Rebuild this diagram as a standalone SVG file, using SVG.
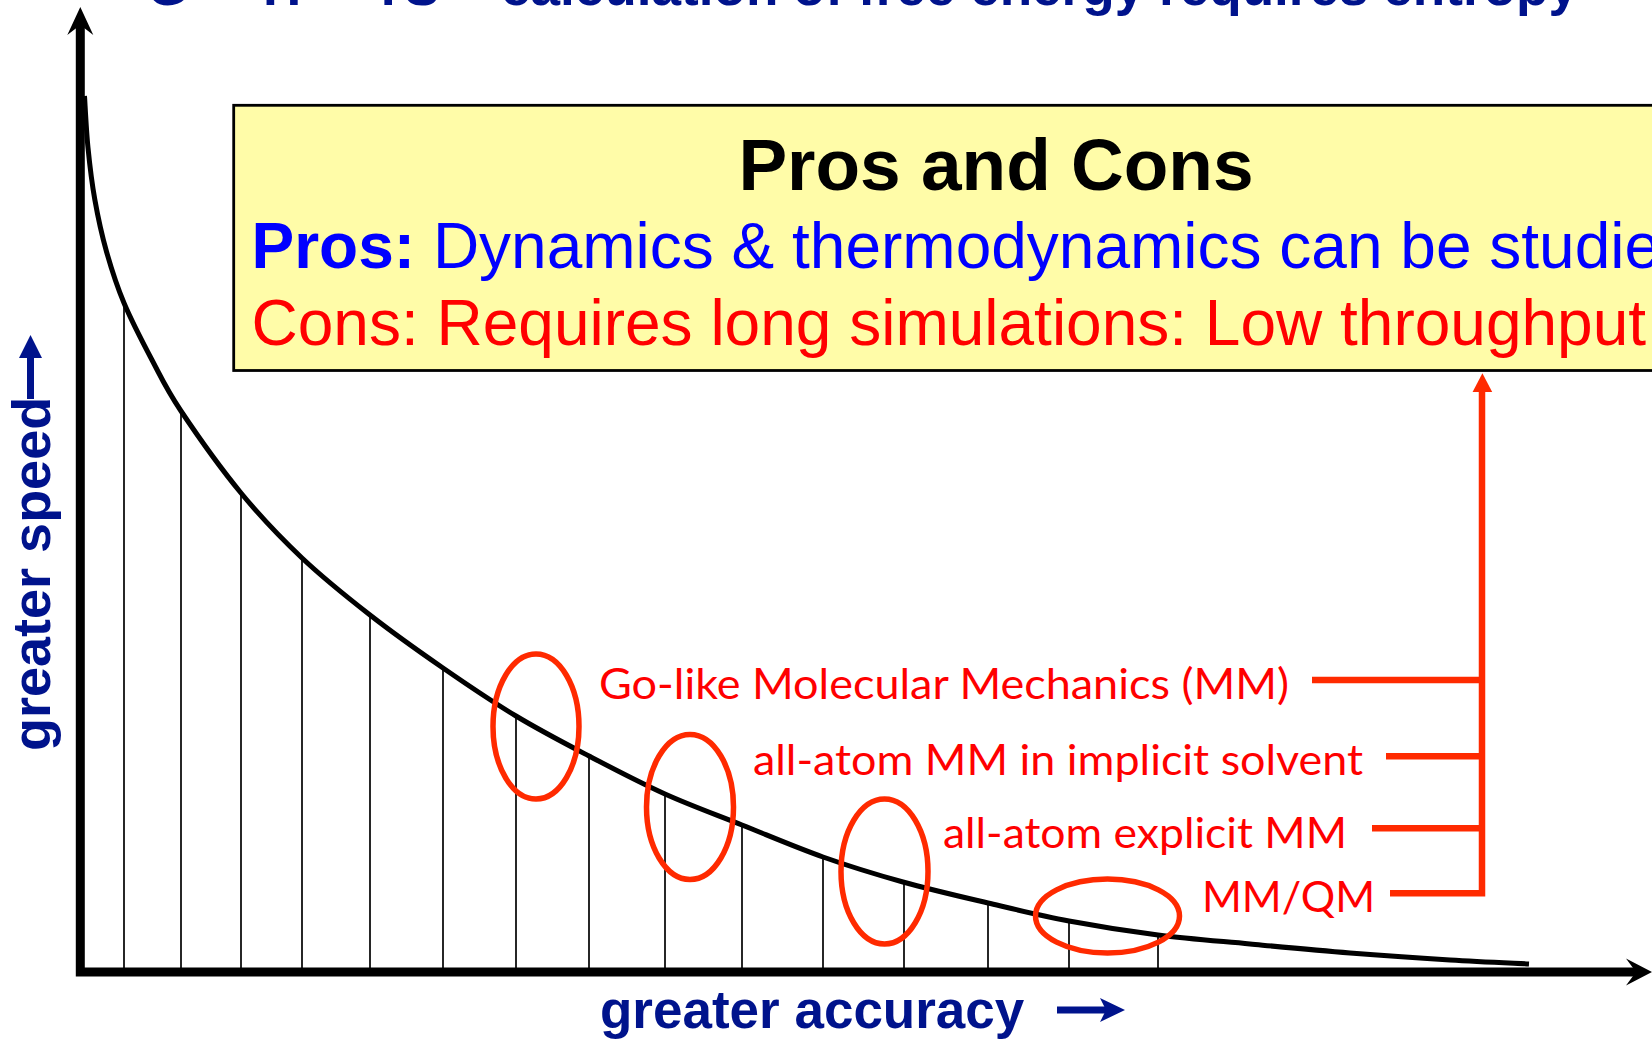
<svg xmlns="http://www.w3.org/2000/svg" width="1652" height="1041" viewBox="0 0 1652 1041">
<style>
.navy{fill:#00138C;font-family:"Liberation Sans",Arial,sans-serif;font-weight:bold}
.lbl{fill:#FF0000;font-family:Lato,"Open Sans",sans-serif;font-size:43px}
.ell{fill:none;stroke:#FF2A00;stroke-width:5.5}
.red{fill:none;stroke:#FF2A00;stroke-width:6.5}
.tick{stroke:#000;stroke-width:1.7}
.box{font-family:"Liberation Sans",Arial,sans-serif}
</style>
<rect width="1652" height="1041" fill="#fff"/>
<text id="title" class="navy" x="147" y="4.5" font-size="53" fill="#000C80"><tspan x="147">G</tspan><tspan x="205">=</tspan><tspan x="263">H</tspan><tspan x="320">–</tspan><tspan x="372">TS</tspan><tspan x="446">–</tspan><tspan x="501" textLength="1077" lengthAdjust="spacingAndGlyphs">calculation of free energy requires entropy</tspan></text>

<g id="box">
<rect x="233.7" y="105.3" width="1500" height="265.2" fill="#FFFCA8" stroke="#000" stroke-width="2.8"/>
<text class="box" x="996" y="189.5" font-size="73" font-weight="bold" text-anchor="middle" fill="#000">Pros and Cons</text>
<text class="box" x="251.5" y="267.5" font-size="64" fill="#0000FF"><tspan font-weight="bold">Pros:</tspan> Dynamics &amp; thermodynamics can be studie</text>
<text class="box" x="251.5" y="345" font-size="64" fill="#FF0000">Cons: Requires long simulations: Low throughput</text>
</g>

<g id="chart">
<g id="ticks">
<line class="tick" x1="124" y1="303" x2="124" y2="968"/>
<line class="tick" x1="181" y1="411" x2="181" y2="968"/>
<line class="tick" x1="241" y1="493" x2="241" y2="968"/>
<line class="tick" x1="302" y1="558" x2="302" y2="968"/>
<line class="tick" x1="370" y1="615" x2="370" y2="968"/>
<line class="tick" x1="443" y1="668" x2="443" y2="968"/>
<line class="tick" x1="516" y1="716" x2="516" y2="968"/>
<line class="tick" x1="589" y1="756" x2="589" y2="968"/>
<line class="tick" x1="665" y1="794" x2="665" y2="968"/>
<line class="tick" x1="742" y1="825" x2="742" y2="968"/>
<line class="tick" x1="823" y1="857" x2="823" y2="968"/>
<line class="tick" x1="904" y1="882" x2="904" y2="968"/>
<line class="tick" x1="988" y1="903" x2="988" y2="968"/>
<line class="tick" x1="1069" y1="921" x2="1069" y2="968"/>
<line class="tick" x1="1158" y1="935" x2="1158" y2="968"/>
</g>
<path id="curve" fill="none" stroke="#000" stroke-width="5" d="M84.5 96 C85.08 104.63 86.28 130.5 88 147.75 C89.72 165 91.73 182.25 94.8 199.5 C97.87 216.75 101.53 234 106.4 251.25 C111.27 268.5 116.4 284.88 124 303 C131.6 321.13 142.5 342 152 360 C161.5 378 166.17 388.83 181 411 C195.83 433.17 220.83 468.5 241 493 C261.17 517.5 280.5 537.67 302 558 C323.5 578.33 346.5 596.67 370 615 C393.5 633.33 418.67 651.17 443 668 C467.33 684.83 491.67 701.33 516 716 C540.33 730.67 564.17 743 589 756 C613.83 769 639.5 782.5 665 794 C690.5 805.5 715.67 814.5 742 825 C768.33 835.5 796.17 847.5 823 857 C849.83 866.5 875.5 874.33 903 882 C930.5 889.67 960.33 896.5 988 903 C1015.67 909.5 1040.67 915.67 1069 921 C1097.33 926.33 1127.83 931.17 1158 935 C1188.17 938.83 1218 941 1250 944 C1282 947 1316.67 950.33 1350 953 C1383.33 955.67 1420.17 958.17 1450 960 C1479.83 961.83 1515.83 963.33 1529 964"/>
<g id="axes">
<path d="M80.3 24 V972 H1637" fill="none" stroke="#000" stroke-width="9" stroke-linejoin="miter"/>
<polygon points="80.3,7 93.3,35 80.3,25 67.3,35" fill="#000"/>
<polygon points="1652,972 1626,985.5 1636,972 1626,958.5" fill="#000"/>
</g>
</g>

<g id="axis-speed">
<text class="navy" font-size="54" transform="translate(50,751) rotate(-90)">greater speed</text>
<line x1="30.5" y1="399" x2="30.5" y2="352" stroke="#00138C" stroke-width="7"/>
<polygon points="30.5,335 42,358 19,358" fill="#00138C"/>
</g>
<g id="axis-accuracy">
<text class="navy" x="600" y="1028" font-size="53">greater accuracy</text>
<line x1="1057" y1="1010" x2="1106" y2="1010" stroke="#00138C" stroke-width="7"/>
<polygon points="1125,1010 1100,998 1106,1010 1100,1022" fill="#00138C"/>
</g>

<g id="ellipse-go"><ellipse class="ell" cx="536" cy="726.5" rx="43" ry="72.5"/></g>
<g id="ellipse-implicit"><ellipse class="ell" cx="690" cy="807" rx="43.5" ry="72.5"/></g>
<g id="ellipse-explicit"><ellipse class="ell" cx="884.5" cy="871.5" rx="43.5" ry="72.5"/></g>
<g id="ellipse-mmqm"><ellipse class="ell" cx="1107.5" cy="916" rx="72" ry="37"/></g>

<g id="label-go"><text class="lbl" x="599" y="698.5" textLength="690" lengthAdjust="spacingAndGlyphs">Go-like Molecular Mechanics (MM)</text></g>
<g id="label-implicit"><text class="lbl" x="753" y="775" textLength="610" lengthAdjust="spacingAndGlyphs">all-atom MM in implicit solvent</text></g>
<g id="label-explicit"><text class="lbl" x="943" y="848" textLength="404" lengthAdjust="spacingAndGlyphs">all-atom explicit MM</text></g>
<g id="label-mmqm"><text class="lbl" x="1202" y="912" textLength="173" lengthAdjust="spacingAndGlyphs">MM/QM</text></g>

<g id="connectors">
<path class="red" d="M1312 680 H1482"/>
<path class="red" d="M1386 756.3 H1482"/>
<path class="red" d="M1372 828.3 H1482"/>
<path class="red" d="M1390 893.3 H1482 V390"/>
<polygon points="1482.4,373.3 1492.2,392 1472.6,392" fill="#FF2A00"/>
</g>
</svg>
